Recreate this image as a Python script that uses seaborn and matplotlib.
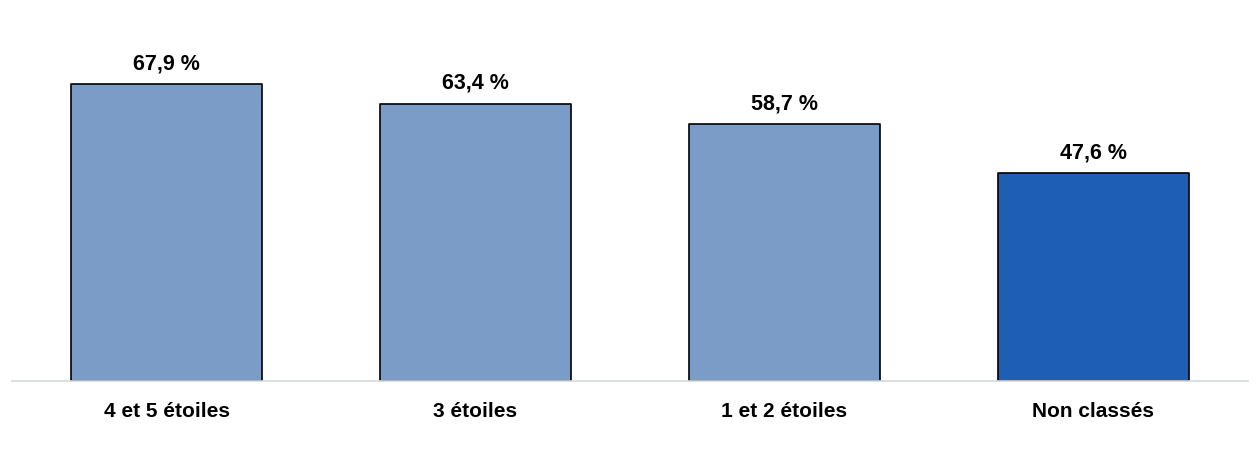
import matplotlib
matplotlib.use("Agg")
import matplotlib.pyplot as plt
import seaborn as sns
import pandas as pd
from matplotlib.patches import FancyBboxPatch

categories = ["4 et 5 étoiles", "3 étoiles", "1 et 2 étoiles", "Non classés"]
values = [67.9, 63.4, 58.7, 47.6]
value_labels = ["67,9 %", "63,4 %", "58,7 %", "47,6 %"]
colors = ["#7A9CC7", "#7A9CC7", "#7A9CC7", "#1E5EB5"]

sns.set_theme(style="white")
plt.rcParams['font.family'] = ['Liberation Sans', 'DejaVu Sans']

df = pd.DataFrame({"cat": categories, "val": values})

fig = plt.figure(figsize=(12.6, 4.5), dpi=100)
ax = fig.add_axes([12/1260, 69/450, 1236/1260, 371.8/450])

sns.barplot(data=df, x="cat", y="val", hue="cat", palette=colors, legend=False,
            width=0.618, edgecolor="#000000", linewidth=1.2, ax=ax, saturation=1)
for p in ax.patches:
    p.set_joinstyle("round")

ax.set_xlim(-0.5, 3.5)
ax.set_ylim(0, 85)
for i, (v, lab) in enumerate(zip(values, value_labels)):
    ax.annotate(lab, (i, v), xytext=(0, 7), textcoords="offset points",
                ha="center", va="bottom", fontsize=15.5, fontweight="bold", color="#000000")

ax.set_xlabel("")
ax.set_ylabel("")
ax.set_yticks([])
ax.tick_params(axis="x", length=0, pad=15, labelsize=15, colors="#000000")
for t in ax.get_xticklabels():
    t.set_fontweight("bold")
for s in ["top", "left", "right"]:
    ax.spines[s].set_visible(False)
ax.spines["bottom"].set_color("#D3DADD")
ax.spines["bottom"].set_linewidth(1.2)

fig.savefig("out.png", dpi=100, facecolor="white")
